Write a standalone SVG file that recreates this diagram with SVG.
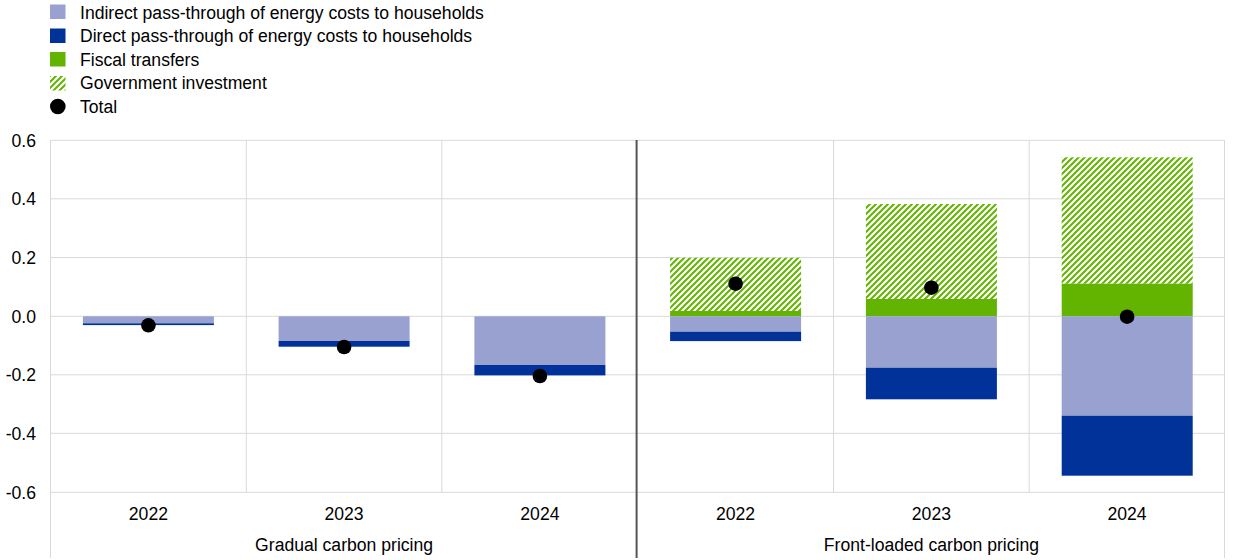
<svg xmlns="http://www.w3.org/2000/svg" width="1240" height="560" viewBox="0 0 1240 560">
<defs>
<pattern id="hatch" patternUnits="userSpaceOnUse" width="6" height="6">
<rect width="6" height="6" fill="#ffffff"/>
<path d="M-1.5,1.5 l3,-3 M0,6 l6,-6 M4.5,7.5 l3,-3" stroke="#62b400" stroke-width="2"/>
</pattern>
<style>
text{font-family:"Liberation Sans",Arial,sans-serif;font-size:17.6px;fill:#000}
.grid{stroke:#d9d9d9;stroke-width:1;fill:none}
.ind{fill:#98a1d0}
.dir{fill:#003299}
.fis{fill:#62b400}
.inv{fill:url(#hatch)}
.tot{fill:#000}
.ylab{text-anchor:end}
.cat{text-anchor:middle}
</style>
</defs>
<rect width="1240" height="560" fill="#ffffff"/>

<g id="legend">
<rect x="50" y="4.5" width="15.5" height="14.5" class="ind"/>
<text x="80" y="18.5">Indirect pass-through of energy costs to households</text>
<rect x="50" y="28.5" width="15.5" height="14.5" class="dir"/>
<text x="80" y="42">Direct pass-through of energy costs to households</text>
<rect x="50" y="52" width="15.5" height="14.5" class="fis"/>
<text x="80" y="65.5">Fiscal transfers</text>
<rect x="50" y="76" width="15.5" height="14.5" class="inv"/>
<text x="80" y="89">Government investment</text>
<circle cx="57.8" cy="106.5" r="7.8" class="tot"/>
<text x="80" y="112.5">Total</text>
</g>

<g id="gridlines">
<path class="grid" d="M50.5,140.3H1224.5 M50.5,198.8H1224.5 M50.5,257.5H1224.5 M50.5,316.3H1224.5 M50.5,374.8H1224.5 M50.5,433.3H1224.5 M50.5,492.3H1224.5"/>
<path class="grid" d="M246.3,140V492.3 M441.8,140V492.3 M833.5,140V492.3 M1029.2,140V492.3 M1224.5,140V558 M50.5,140V558"/>
</g>

<g id="axis-labels">
<text x="36" y="146.5" class="ylab">0.6</text>
<text x="36" y="205" class="ylab">0.4</text>
<text x="36" y="263.8" class="ylab">0.2</text>
<text x="36" y="322.5" class="ylab">0.0</text>
<text x="36" y="381" class="ylab">-0.2</text>
<text x="36" y="439.5" class="ylab">-0.4</text>
<text x="36" y="498.5" class="ylab">-0.6</text>
</g>

<g id="gradual-2022">
<rect x="82.9" y="316.3" width="131" height="7" class="ind"/>
<rect x="82.9" y="323.3" width="131" height="1.8" class="dir"/>
<circle cx="148.4" cy="325.3" r="7.3" class="tot"/>
</g>
<g id="gradual-2023">
<rect x="278.6" y="316.3" width="131" height="24.7" class="ind"/>
<rect x="278.6" y="341" width="131" height="5.7" class="dir"/>
<circle cx="344.1" cy="347" r="7.3" class="tot"/>
</g>
<g id="gradual-2024">
<rect x="474.4" y="316.3" width="131" height="48.7" class="ind"/>
<rect x="474.4" y="365" width="131" height="10.4" class="dir"/>
<circle cx="539.9" cy="376" r="7.3" class="tot"/>
</g>
<g id="front-2022">
<rect x="670.1" y="257.7" width="131" height="53.4" class="inv"/>
<rect x="670.1" y="311" width="131" height="5.3" class="fis"/>
<rect x="670.1" y="316.3" width="131" height="15.4" class="ind"/>
<rect x="670.1" y="331.7" width="131" height="9.4" class="dir"/>
<circle cx="735.6" cy="283.7" r="7.3" class="tot"/>
</g>
<g id="front-2023">
<rect x="865.9" y="204" width="131" height="95" class="inv"/>
<rect x="865.9" y="299" width="131" height="17.3" class="fis"/>
<rect x="865.9" y="316.3" width="131" height="51.4" class="ind"/>
<rect x="865.9" y="367.7" width="131" height="31.6" class="dir"/>
<circle cx="931.4" cy="287.7" r="7.3" class="tot"/>
</g>
<g id="front-2024">
<rect x="1061.7" y="157.3" width="131" height="126.4" class="inv"/>
<rect x="1061.7" y="283.7" width="131" height="32.6" class="fis"/>
<rect x="1061.7" y="316.3" width="131" height="99.4" class="ind"/>
<rect x="1061.7" y="415.7" width="131" height="60" class="dir"/>
<circle cx="1127.1" cy="316.7" r="7.3" class="tot"/>
</g>

<g id="connectors">
<line x1="636.6" y1="140" x2="636.6" y2="558" stroke="#555555" stroke-width="2"/>
</g>

<g id="category-labels">
<text x="148.4" y="520" class="cat">2022</text>
<text x="344.1" y="520" class="cat">2023</text>
<text x="539.9" y="520" class="cat">2024</text>
<text x="735.6" y="520" class="cat">2022</text>
<text x="931.4" y="520" class="cat">2023</text>
<text x="1127.1" y="520" class="cat">2024</text>
<text x="344.1" y="551" class="cat">Gradual carbon pricing</text>
<text x="931.4" y="551" class="cat">Front-loaded carbon pricing</text>
</g>
</svg>
